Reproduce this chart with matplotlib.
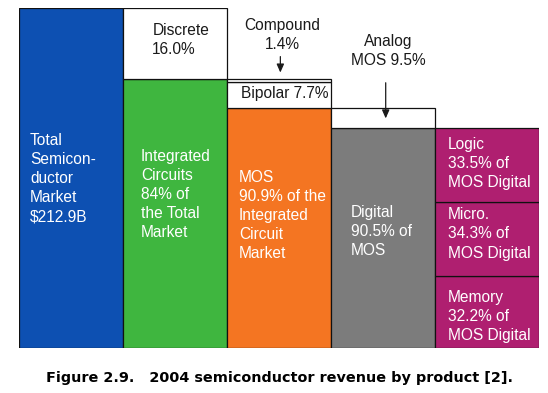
import matplotlib
matplotlib.use("Agg")
import matplotlib.pyplot as plt
from matplotlib.patches import Rectangle

plt.rcParams['font.family'] = ['Liberation Sans', 'DejaVu Sans']

# ---- data (drawn heights, column top of "Total" = 100) ----
columns = ["Total", "Integrated Circuits", "MOS", "Digital", "MOS Digital"]
total_h = [100.0]                 # Total semiconductor market
ic_h = [79.0, 21.0]               # Integrated Circuits, Discrete
mos_h = [70.7, 7.6, 0.9]          # MOS, Bipolar, Compound
digital_h = [64.6, 6.1]           # Digital, Analog MOS
mosdig_h = [21.2, 21.8, 21.6]     # Memory, Micro, Logic

total_lbl = ["Total\nSemicon-\nductor\nMarket\n$212.9B"]
ic_lbl = ["Integrated\nCircuits\n84% of\nthe Total\nMarket", "Discrete\n16.0%"]
mos_lbl = ["MOS\n90.9% of the\nIntegrated\nCircuit\nMarket", "Bipolar 7.7%", "Compound\n1.4%"]
digital_lbl = ["Digital\n90.5% of\nMOS", "Analog\nMOS 9.5%"]
mosdig_lbl = ["Memory\n32.2% of\nMOS Digital", "Micro.\n34.3% of\nMOS Digital", "Logic\n33.5% of\nMOS Digital"]

caption = "Figure 2.9.   2004 semiconductor revenue by product [2]."

# ---- styles ----
BLUE, GREEN, ORANGE, GRAY, MAG = '#0D50B2', '#3FB63F', '#F47522', '#7C7C7C', '#AF1F70'
W = 548; H = 393
fig = plt.figure(figsize=(W / 100, H / 100), dpi=100)
ax = fig.add_axes([19 / W, (H - 347.8) / H, 520 / W, 339.8 / H])
ax.set_xlim(0, 5)
ax.set_ylim(0, 100)
ax.axis('off')

stacks = [total_h, ic_h, mos_h, digital_h, mosdig_h]
fills = [[BLUE], [GREEN, 'white'], [ORANGE, 'white', 'white'], [GRAY, 'white'], [MAG, MAG, MAG]]
for i, (hs, cs) in enumerate(zip(stacks, fills)):
    bottom = 0.0
    for h, c in zip(hs, cs):
        ax.add_patch(Rectangle((i, bottom), 1, h, facecolor=c, edgecolor='#111111',
                               linewidth=0.9))
        bottom += h

FS = 11.2
LS = 1.34
DARK = '#1a1a1a'

def put(x, y, s, color='white', ha='left'):
    ax.text(x, y, s, color=color, fontsize=FS, ha=ha, va='center',
            linespacing=LS, multialignment=ha)

# white labels inside the coloured blocks
put(0.106, 49.8, total_lbl[0])
put(1.173, 45.2, ic_lbl[0])
put(2.115, 38.9, mos_lbl[0])
put(3.192, 34.2, digital_lbl[0])
put(4.125, 54.2, mosdig_lbl[2])
put(4.125, 33.5, mosdig_lbl[1])
put(4.125, 9.15, mosdig_lbl[0])

# dark labels for the white blocks
put(1.282, 90.7, ic_lbl[1], color=DARK)
put(2.13, 74.7, mos_lbl[1], color=DARK)
put(2.529, 92.1, mos_lbl[2], color=DARK, ha='center')
put(3.548, 87.4, digital_lbl[1], color=DARK, ha='center')

# arrows
arrow_kw = dict(arrowstyle='-|>,head_length=0.5,head_width=0.22', color=DARK, lw=0.9,
                shrinkA=0, shrinkB=0)
ax.annotate('', xy=(2.513, 81.0), xytext=(2.513, 85.7), arrowprops=arrow_kw,
            annotation_clip=False)
ax.annotate('', xy=(3.526, 67.5), xytext=(3.526, 78.0), arrowprops=arrow_kw,
            annotation_clip=False)

fig.text(280 / W, 1 - 378 / H, caption, ha='center', va='center', fontsize=10.4,
         fontweight='bold', color='black', family=['DejaVu Sans'])

fig.savefig('out.png', dpi=100)
